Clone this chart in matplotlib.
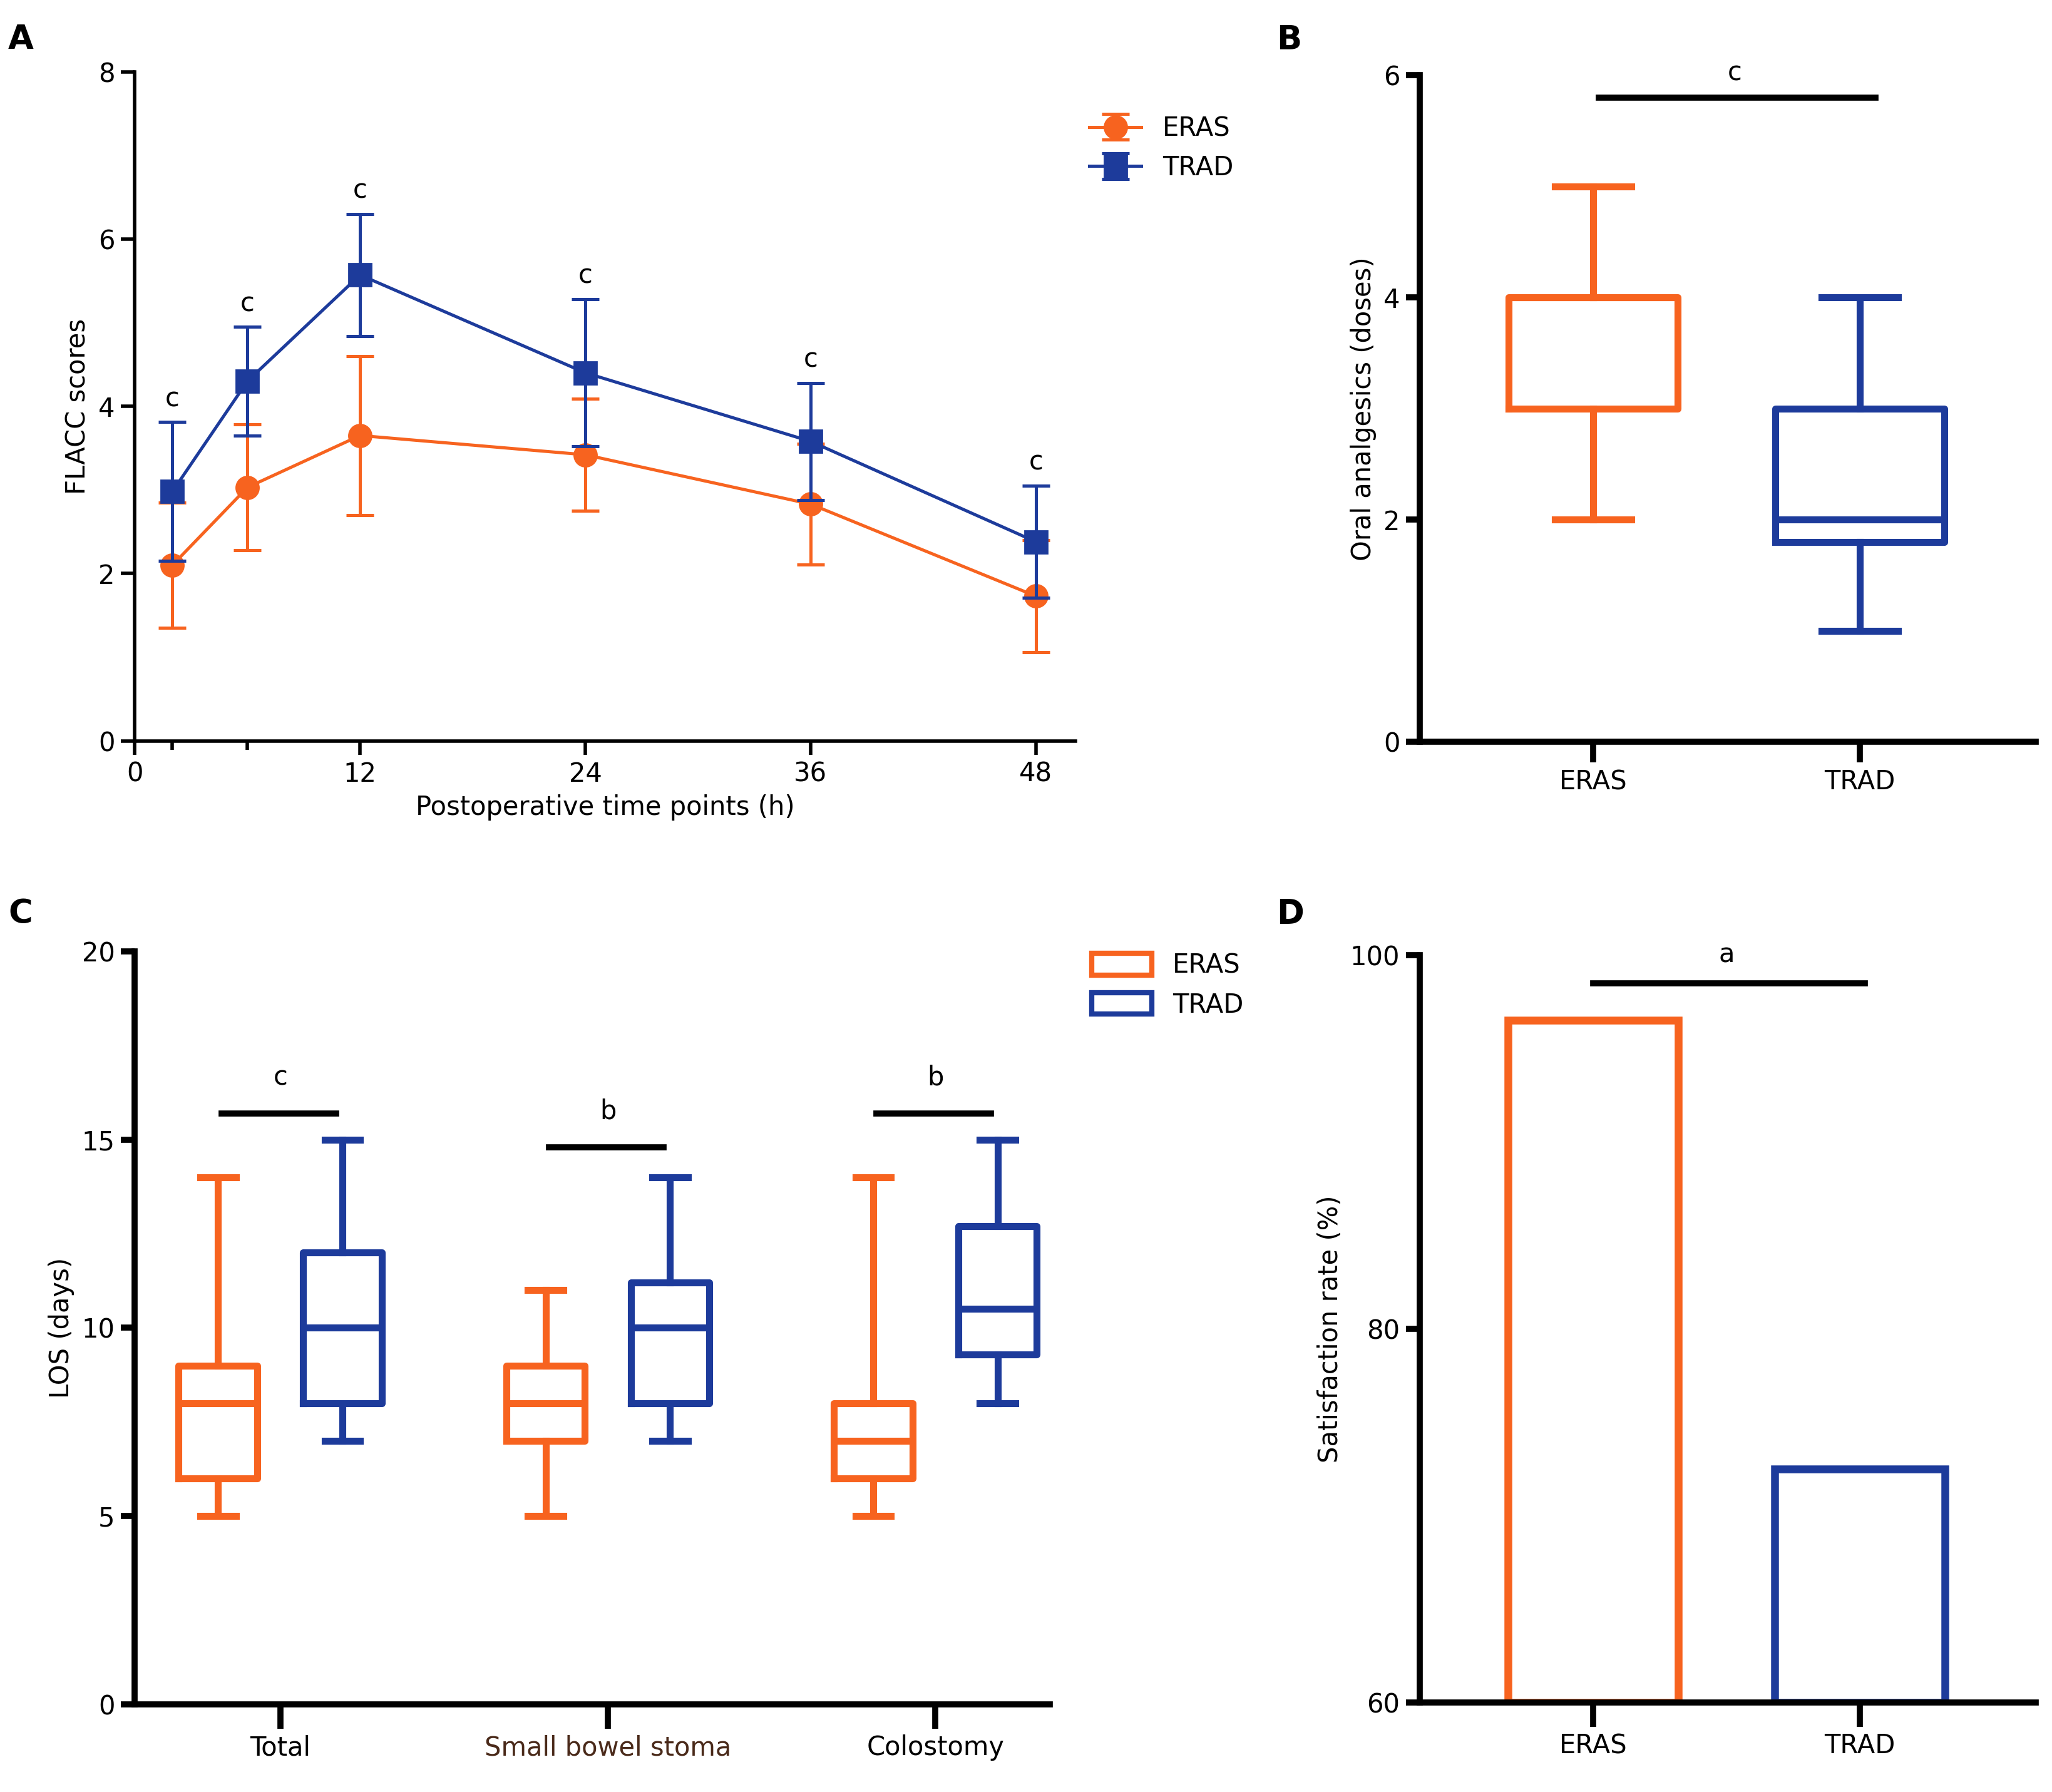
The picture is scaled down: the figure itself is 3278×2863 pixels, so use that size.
import matplotlib.pyplot as plt
from matplotlib.patches import Patch

ORANGE = '#f7631f'
BLUE = '#1d3b9b'

# Panel A data
hours = [2, 6, 12, 24, 36, 48]
eras_mean = [2.1, 3.03, 3.65, 3.42, 2.83, 1.73]
eras_sd = [0.75, 0.75, 0.95, 0.67, 0.72, 0.67]
trad_mean = [2.98, 4.3, 5.57, 4.4, 3.58, 2.38]
trad_sd = [0.83, 0.65, 0.73, 0.88, 0.7, 0.67]
sig_a = ['c', 'c', 'c', 'c', 'c', 'c']

# Panel B data (whislo, q1, med, q3, whishi)
oral_eras = [2, 3, 4, 4, 5]
oral_trad = [1, 1.8, 2, 3, 4]

# Panel C data
los_groups = ['Total', 'Small bowel stoma', 'Colostomy']
los_eras = [[5, 6, 8, 9, 14], [5, 7, 8, 9, 11], [5, 6, 7, 8, 14]]
los_trad = [[7, 8, 10, 12, 15], [7, 8, 10, 11.2, 14], [8, 9.3, 10.5, 12.7, 15]]
los_sig = ['c', 'b', 'b']
los_sig_y = [15.7, 14.8, 15.7]

# Panel D data
sat_groups = ['ERAS', 'TRAD']
sat_rate = [96.5, 72.5]

plt.rcParams['font.family'] = 'DejaVu Sans'
plt.rcParams['font.size'] = 12
fig = plt.figure(figsize=(16.39, 14.315), dpi=200)
FS = 15


def style(ax, lw=3):
    for s in ['top', 'right']:
        ax.spines[s].set_visible(False)
    for s in ['left', 'bottom']:
        ax.spines[s].set_linewidth(lw)
    ax.tick_params(width=lw, length=8, labelsize=FS)


def stats(v):
    return dict(whislo=v[0], q1=v[1], med=v[2], q3=v[3], whishi=v[4], fliers=[])


def draw_box(ax, v, pos, color, width, lw=4):
    ax.bxp([stats(v)], positions=[pos], widths=width, showfliers=False,
           boxprops=dict(color=color, linewidth=lw),
           medianprops=dict(color=color, linewidth=lw),
           whiskerprops=dict(color=color, linewidth=lw),
           capprops=dict(color=color, linewidth=lw), capwidths=width * 0.45)


# A
axA = fig.add_axes([0.0657, 0.5866, 0.4583, 0.3734])
axA.errorbar(hours, eras_mean, yerr=eras_sd, color=ORANGE, marker='o', ms=13,
             lw=1.8, capsize=8, capthick=1.8, label='ERAS', zorder=2)
axA.errorbar(hours, trad_mean, yerr=trad_sd, color=BLUE, marker='s', ms=13,
             lw=1.8, capsize=8, capthick=1.8, label='TRAD', zorder=3)
for h, m, s, t in zip(hours, trad_mean, trad_sd, sig_a):
    axA.text(h, m + s + 0.12, t, ha='center', va='bottom', fontsize=FS)
axA.set_xlim(0, 50.1)
axA.set_ylim(0, 8)
axA.set_xticks([0, 12, 24, 36, 48])
axA.set_xticks(hours, minor=True)
axA.set_yticks([0, 2, 4, 6, 8])
axA.set_xlabel('Postoperative time points (h)', fontsize=FS)
axA.set_ylabel('FLACC scores', fontsize=FS)
style(axA, 2)
axA.tick_params(which='minor', width=2, length=5)
axA.legend(frameon=False, fontsize=FS, loc='upper left',
           bbox_to_anchor=(0.99, 0.97), handlelength=2)

# B
axB = fig.add_axes([0.692, 0.586, 0.30, 0.372])
draw_box(axB, oral_eras, 1, ORANGE, 0.635)
draw_box(axB, oral_trad, 2, BLUE, 0.635)
axB.plot([1.02, 2.06], [5.8, 5.8], color='black', lw=3.5)
axB.text(1.53, 5.9, 'c', ha='center', va='bottom', fontsize=FS)
axB.set_xlim(0.35, 2.66)
axB.set_ylim(0, 6)
axB.set_yticks([0, 2, 4, 6])
axB.set_xticks([1, 2])
axB.set_xticklabels(['ERAS', 'TRAD'])
axB.set_ylabel('Oral analgesics (doses)', fontsize=FS)
style(axB, 3.5)
axB.tick_params(axis='x', length=12)

# C
axC = fig.add_axes([0.0657, 0.049, 0.446, 0.42])
for i, (e, t) in enumerate(zip(los_eras, los_trad)):
    c = i + 1
    draw_box(axC, e, c - 0.19, ORANGE, 0.24)
    draw_box(axC, t, c + 0.19, BLUE, 0.24)
    axC.plot([c - 0.18, c + 0.17], [los_sig_y[i]] * 2, color='black', lw=3.5)
    axC.text(c, los_sig_y[i] + 0.6, los_sig[i], ha='center', va='bottom', fontsize=FS)
axC.set_xlim(0.556, 3.35)
axC.set_ylim(0, 20)
axC.set_yticks([0, 5, 10, 15, 20])
axC.set_xticks([1, 2, 3])
axC.set_xticklabels(los_groups)
axC.set_ylabel('LOS (days)', fontsize=FS)
style(axC, 3.5)
axC.get_xticklabels()[1].set_color('#4a2a1a')
axC.tick_params(axis='x', length=14)
axC.legend(handles=[Patch(facecolor='white', edgecolor=ORANGE, lw=3, label='ERAS'),
                    Patch(facecolor='white', edgecolor=BLUE, lw=3, label='TRAD')],
           frameon=False, fontsize=FS, loc='upper left', bbox_to_anchor=(1.02, 1.03),
           handlelength=2.3, handleheight=0.9)

# D
axD = fig.add_axes([0.692, 0.050, 0.30, 0.417])
axD.bar([1, 2], [r - 60 for r in sat_rate], bottom=60, width=0.64,
        facecolor='none', edgecolor=[ORANGE, BLUE], lw=4.5)
axD.plot([1.0, 2.02], [98.5, 98.5], color='black', lw=3.5)
axD.text(1.5, 99.3, 'a', ha='center', va='bottom', fontsize=FS)
axD.set_xlim(0.35, 2.66)
axD.set_ylim(60, 100)
axD.set_yticks([60, 80, 100])
axD.set_xticks([1, 2])
axD.set_xticklabels(sat_groups)
axD.set_ylabel('Satisfaction rate (%)', fontsize=FS)
style(axD, 3.5)
axD.tick_params(axis='x', length=14)

for lbl, x, y in [('A', 0.004, 0.978), ('B', 0.622, 0.978), ('C', 0.004, 0.49), ('D', 0.622, 0.49)]:
    fig.text(x, y, lbl, fontsize=19, fontweight='bold', va='center')

fig.savefig('out.png', dpi=200)
